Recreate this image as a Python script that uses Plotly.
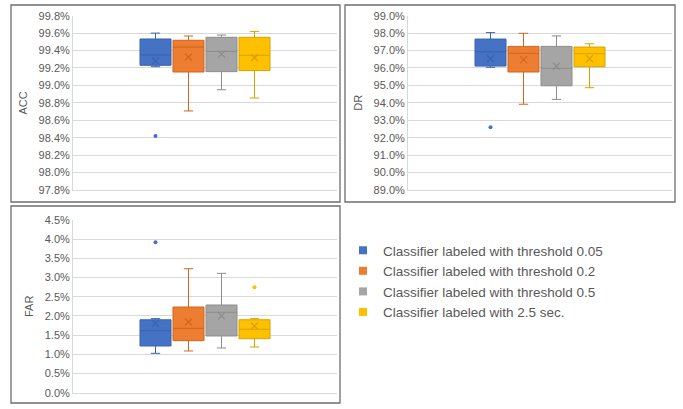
import plotly.graph_objects as go

classifiers = [
    "Classifier labeled with threshold 0.05",
    "Classifier labeled with threshold 0.2",
    "Classifier labeled with threshold 0.5",
    "Classifier labeled with 2.5 sec.",
]
fill_colors = ["#4472C4", "#ED7D31", "#A5A5A5", "#FFC000"]
line_colors = ["#3A63AD", "#CF661F", "#8C8C8C", "#D6A200"]

# ACC (%)
acc_lower = [99.215, 98.707, 98.95, 98.855]
acc_q1 = [99.231, 99.154, 99.158, 99.17]
acc_median = [99.349, 99.44, 99.39, 99.346]
acc_q3 = [99.533, 99.518, 99.552, 99.552]
acc_upper = [99.60, 99.567, 99.578, 99.62]
acc_mean = [99.28, 99.326, 99.36, 99.318]
acc_outliers = [[98.42], [], [], []]

# DR (%)
dr_lower = [96.04, 93.92, 94.2, 94.87]
dr_q1 = [96.11, 95.77, 94.98, 96.07]
dr_median = [96.93, 96.84, 95.98, 96.82]
dr_q3 = [97.66, 97.24, 97.24, 97.2]
dr_upper = [98.03, 97.99, 97.84, 97.39]
dr_mean = [96.53, 96.48, 96.11, 96.53]
dr_outliers = [[92.6], [], [], []]

# FAR (%)
far_lower = [1.026, 1.087, 1.165, 1.19]
far_q1 = [1.217, 1.356, 1.478, 1.407]
far_median = [1.616, 1.677, 2.095, 1.652]
far_q3 = [1.90, 2.233, 2.285, 1.90]
far_upper = [1.93, 3.23, 3.11, 1.93]
far_mean = [1.81, 1.843, 2.0, 1.738]
far_outliers = [[3.92], [], [], [2.75]]

panels = [
    dict(name="ACC", ax="", lower=acc_lower, q1=acc_q1, med=acc_median, q3=acc_q3,
         upper=acc_upper, mean=acc_mean, out=acc_outliers, yr=[97.8, 99.8], dt=0.2),
    dict(name="DR", ax="2", lower=dr_lower, q1=dr_q1, med=dr_median, q3=dr_q3,
         upper=dr_upper, mean=dr_mean, out=dr_outliers, yr=[89.0, 99.0], dt=1.0),
    dict(name="FAR", ax="3", lower=far_lower, q1=far_q1, med=far_median, q3=far_q3,
         upper=far_upper, mean=far_mean, out=far_outliers, yr=[0.0, 4.5], dt=0.5),
]

W, H = 683, 409
fig = go.Figure()

for p in panels:
    xa, ya = "x" + p["ax"], "y" + p["ax"]
    for k, cls in enumerate(classifiers):
        fig.add_trace(go.Box(
            x=[cls], q1=[p["q1"][k]], median=[p["med"][k]], q3=[p["q3"][k]],
            lowerfence=[p["lower"][k]], upperfence=[p["upper"][k]],
            fillcolor=fill_colors[k], line=dict(color=line_colors[k], width=1),
            whiskerwidth=0.3, boxpoints=False, showlegend=False,
            xaxis=xa, yaxis=ya, hoverinfo="skip",
        ))
        fig.add_trace(go.Scatter(
            x=[cls], y=[p["mean"][k]], mode="markers", showlegend=False,
            marker=dict(symbol="x-thin-open", size=7, color=line_colors[k],
                        line=dict(color=line_colors[k], width=1.2)),
            xaxis=xa, yaxis=ya, hoverinfo="skip",
        ))
        if p["out"][k]:
            fig.add_trace(go.Scatter(
                x=[cls] * len(p["out"][k]), y=p["out"][k], mode="markers",
                showlegend=False, marker=dict(symbol="circle", size=4, color=fill_colors[k]),
                xaxis=xa, yaxis=ya, hoverinfo="skip",
            ))

for k, cls in enumerate(classifiers):
    fig.add_trace(go.Scatter(
        x=[None], y=[None], mode="markers", name=cls,
        marker=dict(symbol="square", size=8, color=fill_colors[k]),
        showlegend=True,
    ))

def px(v):
    return v / W

def py(v):
    return 1 - v / H

grid = "#D9D9D9"
tickfont = dict(family="Liberation Sans, Arial, sans-serif", size=11, color="#595959")
titlefont = dict(family="Liberation Sans, Arial, sans-serif", size=11, color="#595959")

domains = [
    ([px(73), px(337)], [py(190), py(15.7)]),
    ([px(408), px(672)], [py(190), py(15.7)]),
    ([px(73), px(337)], [py(392.7), py(220)]),
]

layout = dict(
    template="none",
    width=W, height=H, margin=dict(l=0, r=0, t=0, b=0, pad=0),
    paper_bgcolor="white", plot_bgcolor="white",
    boxmode="overlay", boxgap=0.06, boxgroupgap=0,
    font=dict(family="Liberation Sans, Arial, sans-serif", color="#595959"),
    legend=dict(x=px(343), y=py(235), xanchor="left", yanchor="top",
                font=dict(family="Liberation Sans, Arial, sans-serif", size=13.5, color="#595959"),
                itemwidth=30, bgcolor="rgba(0,0,0,0)", tracegroupgap=0, borderwidth=0),
)
for i, p in enumerate(panels):
    xd, yd = domains[i]
    sx = "xaxis" + p["ax"]
    sy = "yaxis" + p["ax"]
    layout[sx] = dict(
        domain=xd, anchor="y" + p["ax"], type="category", automargin=False,
        categoryorder="array", categoryarray=classifiers,
        range=[-2.5, 5.5], showticklabels=False, showgrid=False,
        showline=True, linecolor=grid, linewidth=1, ticks="", zeroline=False,
    )
    eps = (p["yr"][1] - p["yr"][0]) * 1e-7
    layout[sy] = dict(
        domain=yd, anchor="x" + p["ax"], range=[p["yr"][0] - eps, p["yr"][1] + eps],
        automargin=False,
        tick0=p["yr"][0], dtick=p["dt"], tickformat=".1f", ticksuffix="%",
        showgrid=True, gridcolor=grid, gridwidth=1, zeroline=False,
        showline=True, linecolor=grid, linewidth=1, ticks="",
        tickfont=tickfont, title=dict(text=p["name"], font=titlefont, standoff=8),
    )
fig.update_layout(**layout)

border = "#6E6E6E"
for (x0, y0, x1, y1) in [(11, 5, 340, 202), (345, 5, 675, 202), (11, 206, 340, 403)]:
    fig.add_shape(type="rect", xref="paper", yref="paper",
                  x0=px(x0), x1=px(x1), y0=py(y0), y1=py(y1),
                  line=dict(color=border, width=1.3), fillcolor="rgba(0,0,0,0)", layer="above")

fig.write_html("out.html", config={"displayModeBar": False},
               post_script="document.body.style.margin='0';document.body.style.overflow='hidden';")
